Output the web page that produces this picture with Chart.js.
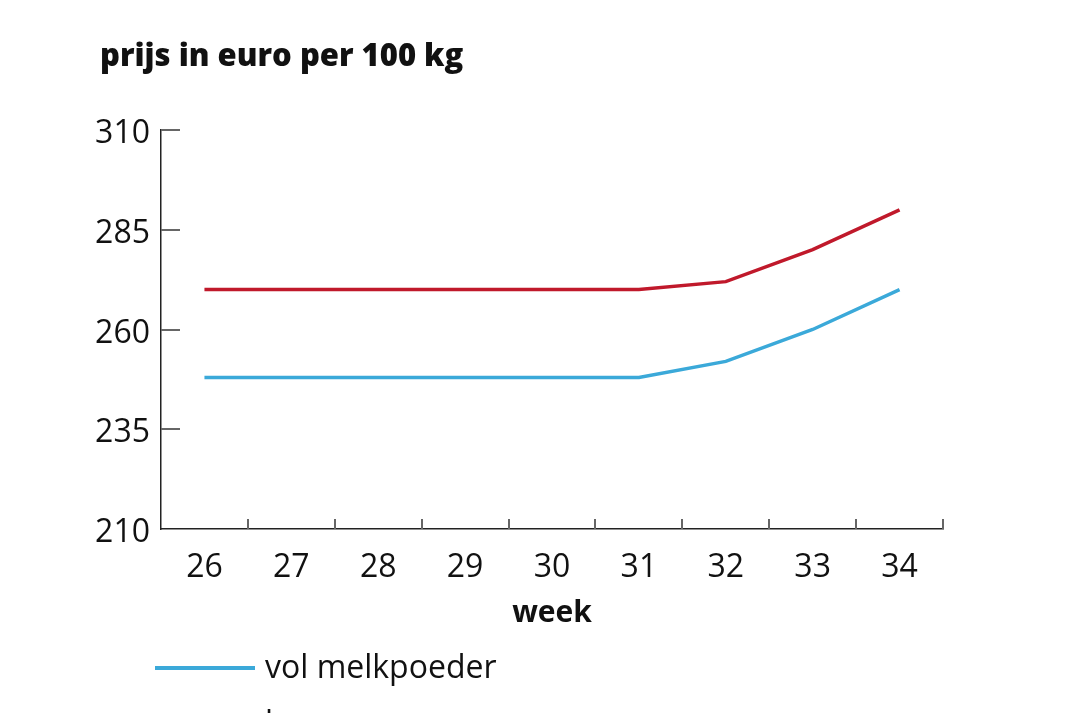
<!DOCTYPE html>
<html>
<head>
<meta charset="utf-8">
<script src="https://cdn.jsdelivr.net/npm/chart.js@4/dist/chart.umd.min.js"></script>
<style>
  html, body { margin: 0; padding: 0; background: #fff; overflow: hidden; }
  #wrap { position: relative; width: 1070px; height: 713px; overflow: hidden; }
  #title {
    position: absolute; left: 100px; top: 34px;
    font: 800 31px "Open Sans", sans-serif; line-height: 40px; color: #111;
  }
  #legend { position: absolute; left: 155px; top: 640px; }
  .leg-item { display: flex; align-items: center; height: 56px; }
  .leg-line { width: 100px; height: 4px; margin-right: 10px; }
  .leg-text { font: 32px "Open Sans", sans-serif; color: #111; margin-top: -6px; }
</style>
</head>
<body>
<div id="wrap">
  <canvas id="chart" width="1070" height="713"></canvas>
  <div id="title">prijs in euro per 100 kg</div>
  <div id="legend"></div>
</div>
<script>
const weeks = ["26", "27", "28", "29", "30", "31", "32", "33", "34"];
const volMelkpoeder = [248, 248, 248, 248, 248, 248, 252, 260, 270];
const kaas = [270, 270, 270, 270, 270, 270, 272, 280, 290];
const yTicks = [210, 235, 260, 285, 310];

// inward tick marks, as in the original
const innerTicks = {
  id: "innerTicks",
  afterDraw(chart) {
    const { ctx, scales: { x, y } } = chart;
    ctx.save();
    ctx.strokeStyle = "#666";
    ctx.lineWidth = 2;
    ctx.beginPath();
    yTicks.slice(1).forEach(v => {
      const py = Math.round(y.getPixelForValue(v));
      ctx.moveTo(x.left, py);
      ctx.lineTo(x.left + 19, py);
    });
    weeks.forEach((w, i) => {
      const px = Math.round(x.getPixelForValue(i + 0.5));
      ctx.moveTo(px, y.bottom);
      ctx.lineTo(px, y.bottom - 10);
    });
    ctx.stroke();
    ctx.restore();
  }
};

const ctx = document.getElementById("chart").getContext("2d");
const chart = new Chart(ctx, {
  type: "line",
  data: {
    labels: weeks,
    datasets: [
      { label: "vol melkpoeder", data: volMelkpoeder, borderColor: "#3ba9d9", borderWidth: 3.5, pointRadius: 0, tension: 0 },
      { label: "kaas", data: kaas, borderColor: "#c0192b", borderWidth: 3.5, pointRadius: 0, tension: 0 }
    ]
  },
  options: {
    responsive: false,
    animation: false,
    layout: { padding: { left: 91, right: 127, top: 130, bottom: 74 } },
    plugins: { legend: { display: false }, tooltip: { enabled: false } },
    scales: {
      x: {
        offset: true,
        grid: { display: true, drawOnChartArea: false, drawTicks: false, offset: true },
        border: { display: true, color: "#222", width: 1.5 },
        ticks: { color: "#111", padding: 20, font: { family: "Open Sans", size: 32 } },
        title: { display: true, text: "week", color: "#111", align: "center", padding: { top: 0, bottom: 8 },
                 font: { family: "Open Sans", size: 30, weight: "bold" } },
        afterFit: s => { s.height = 110; }
      },
      y: {
        min: 210, max: 310,
        afterBuildTicks: s => { s.ticks = yTicks.map(v => ({ value: v })); },
        grid: { display: true, drawOnChartArea: false, drawTicks: false },
        border: { display: true, color: "#222", width: 1.5 },
        ticks: { color: "#111", padding: 11, labelOffset: 4, font: { family: "Open Sans", size: 32 } },
        afterFit: s => { s.width = 70; }
      }
    }
  },
  plugins: [innerTicks]
});

// legend below the chart
const legend = document.getElementById("legend");
chart.data.datasets.forEach(ds => {
  const item = document.createElement("div");
  item.className = "leg-item";
  item.innerHTML = `<div class="leg-line" style="background:${ds.borderColor}"></div><div class="leg-text">${ds.label}</div>`;
  legend.appendChild(item);
});
</script>
</body>
</html>
